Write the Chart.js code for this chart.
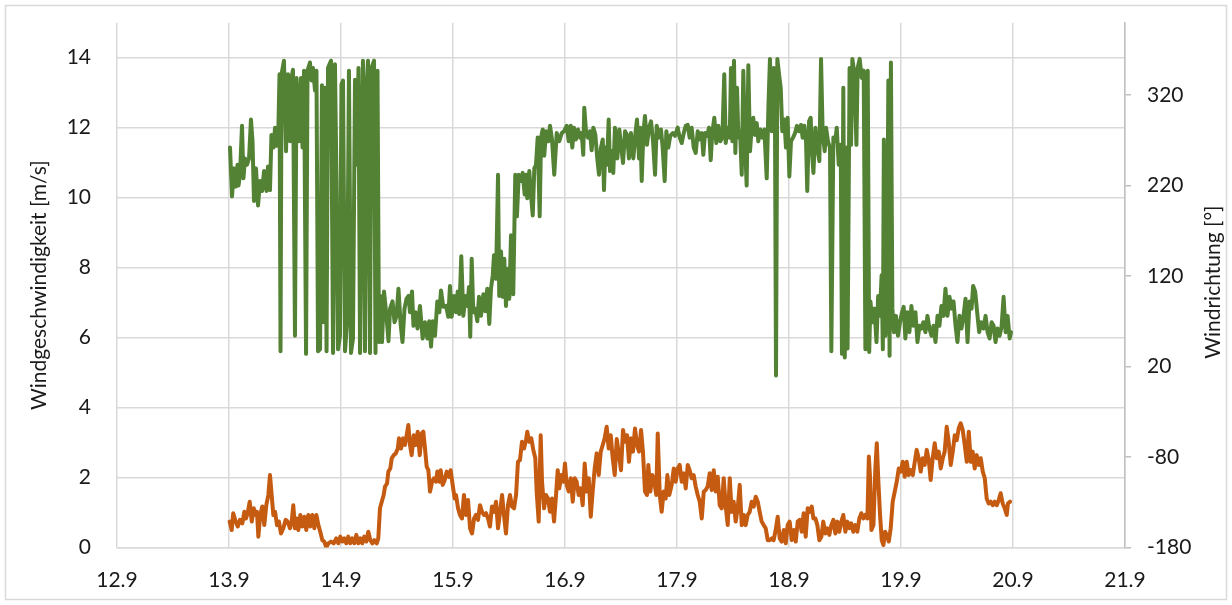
<!DOCTYPE html>
<html>
<head>
<meta charset="utf-8">
<script src="https://cdn.jsdelivr.net/npm/chart.js@4.4.1/dist/chart.umd.min.js"></script>
<style>
html,body{margin:0;padding:0;background:#fff;}
#wrap{position:relative;width:1232px;height:605px;}
</style>
</head>
<body>
<div id="wrap"><canvas id="c" width="1232" height="605"></canvas></div>
<script>
// X tick labels (day)
const xTicks = [12.9, 13.9, 14.9, 15.9, 16.9, 17.9, 18.9, 19.9, 20.9, 21.9];
const leftTicks = [0, 2, 4, 6, 8, 10, 12, 14];
const rightTicks = [-180, -80, 20, 120, 220, 320];
const leftTitle = 'Windgeschwindigkeit [m/s]';
const rightTitle = 'Windrichtung [°]';

// Wind direction [°] (right axis)
const dirDays = [13.909,13.927,13.945,13.963,13.976,13.985,13.998,14.016,14.029,14.043,14.061,14.079,14.096,14.110,14.123,14.141,14.159,14.177,14.195,14.213,14.235,14.248,14.266,14.279,14.297,14.311,14.324,14.338,14.351,14.360,14.369,14.391,14.409,14.427,14.445,14.458,14.471,14.489,14.503,14.525,14.543,14.556,14.570,14.588,14.601,14.623,14.637,14.650,14.668,14.681,14.695,14.713,14.730,14.744,14.757,14.771,14.784,14.797,14.811,14.829,14.846,14.860,14.873,14.891,14.904,14.918,14.936,14.954,14.971,14.989,15.007,15.025,15.043,15.056,15.070,15.083,15.096,15.114,15.128,15.141,15.159,15.172,15.195,15.208,15.226,15.239,15.253,15.266,15.284,15.306,15.324,15.338,15.360,15.378,15.396,15.413,15.431,15.449,15.467,15.485,15.503,15.516,15.534,15.547,15.565,15.583,15.605,15.629,15.650,15.671,15.688,15.704,15.719,15.739,15.760,15.778,15.793,15.813,15.838,15.858,15.873,15.888,15.909,15.927,15.942,15.956,15.974,15.992,16.010,16.028,16.043,16.054,16.067,16.081,16.099,16.117,16.132,16.150,16.171,16.188,16.206,16.224,16.239,16.255,16.266,16.284,16.302,16.313,16.329,16.344,16.358,16.373,16.388,16.403,16.418,16.438,16.456,16.471,16.487,16.504,16.522,16.540,16.552,16.563,16.581,16.596,16.612,16.626,16.641,16.656,16.674,16.686,16.701,16.715,16.730,16.751,16.766,16.784,16.804,16.826,16.849,16.871,16.891,16.915,16.933,16.951,16.965,16.980,16.998,17.016,17.034,17.049,17.063,17.072,17.088,17.105,17.123,17.138,17.153,17.171,17.188,17.204,17.221,17.237,17.248,17.260,17.275,17.290,17.302,17.317,17.331,17.346,17.367,17.385,17.400,17.418,17.436,17.454,17.471,17.489,17.510,17.531,17.543,17.561,17.572,17.585,17.599,17.614,17.632,17.650,17.668,17.686,17.704,17.719,17.739,17.757,17.772,17.790,17.805,17.822,17.840,17.862,17.882,17.906,17.924,17.942,17.960,17.978,17.996,18.013,18.031,18.049,18.067,18.085,18.103,18.121,18.135,18.150,18.168,18.186,18.201,18.215,18.233,18.251,18.269,18.287,18.305,18.322,18.335,18.353,18.371,18.382,18.394,18.409,18.421,18.436,18.448,18.463,18.478,18.492,18.507,18.522,18.537,18.552,18.567,18.581,18.596,18.612,18.626,18.644,18.662,18.680,18.701,18.716,18.730,18.746,18.764,18.775,18.784,18.796,18.811,18.826,18.840,18.858,18.873,18.888,18.903,18.918,18.936,18.954,18.971,18.989,19.007,19.022,19.037,19.052,19.063,19.079,19.094,19.103,19.118,19.136,19.153,19.171,19.186,19.201,19.219,19.231,19.248,19.266,19.278,19.296,19.314,19.326,19.344,19.362,19.373,19.385,19.398,19.412,19.423,19.441,19.454,19.466,19.484,19.502,19.513,19.531,19.549,19.567,19.582,19.591,19.603,19.616,19.627,19.645,19.663,19.681,19.696,19.711,19.727,19.738,19.747,19.760,19.774,19.787,19.798,19.810,19.823,19.837,19.855,19.873,19.891,19.909,19.924,19.939,19.957,19.975,19.993,20.011,20.029,20.047,20.065,20.082,20.100,20.118,20.136,20.154,20.172,20.190,20.208,20.226,20.243,20.261,20.279,20.297,20.315,20.333,20.351,20.369,20.387,20.404,20.422,20.440,20.458,20.476,20.494,20.512,20.530,20.544,20.562,20.580,20.598,20.616,20.637,20.655,20.673,20.691,20.709,20.727,20.744,20.762,20.780,20.798,20.816,20.834,20.852,20.870,20.882];
const dirDeg = [262,208,239,219,243,220,232,286,228,250,243,250,293,269,203,239,198,225,214,236,214,241,215,276,262,284,264,265,343,37,343,358,258,343,269,339,348,54,339,269,339,262,347,34,347,356,336,350,325,347,37,39,331,69,328,37,350,354,358,35,354,225,39,54,332,336,37,69,347,35,51,337,243,350,35,243,358,37,328,358,35,350,358,35,347,47,98,47,103,76,48,84,92,69,76,106,69,47,84,95,98,80,103,65,80,62,87,51,69,51,70,42,70,54,92,80,104,86,87,75,109,75,98,80,103,78,142,76,98,87,108,53,139,80,84,70,97,76,100,81,106,67,106,121,143,117,232,98,147,97,139,87,128,95,165,100,232,186,232,225,234,210,232,206,236,210,187,239,243,273,186,273,282,253,280,269,286,271,232,278,269,278,280,286,269,286,262,284,271,282,273,278,254,306,280,273,280,259,284,276,250,232,262,271,215,262,243,293,236,258,234,284,250,282,265,245,280,276,250,278,250,280,293,250,284,225,276,297,265,284,291,269,232,286,273,282,262,225,280,262,275,278,275,284,273,267,278,286,287,273,284,262,256,280,271,278,254,278,275,284,248,278,295,267,286,269,273,343,267,284,273,350,269,358,256,328,273,280,232,347,269,220,353,258,284,295,276,289,269,282,273,282,228,306,360,280,350,284,10,360,343,328,280,293,262,295,230,269,273,278,286,280,287,273,286,269,214,291,295,262,234,284,262,247,360,276,258,284,269,262,37,273,269,284,243,265,34,328,30,262,40,350,265,360,343,265,350,360,339,347,39,95,347,36,92,69,84,47,98,76,121,39,271,54,84,336,32,356,84,58,76,54,69,80,86,51,80,58,87,65,80,47,65,62,69,58,76,62,54,65,47,76,65,87,76,106,76,97,84,92,65,47,76,62,76,95,47,92,84,109,103,80,58,69,62,76,58,51,69,65,47,62,54,64,97,58,76,51,58];

// Wind speed [m/s] (left axis)
const spdDays = [13.906,13.924,13.938,13.960,13.978,13.998,14.019,14.037,14.052,14.067,14.085,14.103,14.121,14.138,14.150,14.162,14.179,14.197,14.215,14.233,14.251,14.266,14.281,14.296,14.311,14.329,14.346,14.364,14.385,14.406,14.424,14.445,14.460,14.474,14.489,14.504,14.519,14.537,14.554,14.572,14.590,14.608,14.626,14.644,14.662,14.680,14.698,14.715,14.733,14.751,14.769,14.787,14.811,14.835,14.858,14.876,14.894,14.912,14.930,14.947,14.965,14.983,15.001,15.019,15.037,15.055,15.073,15.090,15.108,15.126,15.144,15.162,15.180,15.198,15.219,15.233,15.248,15.264,15.281,15.293,15.311,15.323,15.340,15.353,15.371,15.389,15.407,15.418,15.436,15.454,15.471,15.489,15.501,15.516,15.531,15.549,15.567,15.585,15.603,15.621,15.635,15.650,15.665,15.680,15.695,15.713,15.730,15.748,15.760,15.778,15.790,15.808,15.826,15.844,15.862,15.879,15.897,15.915,15.927,15.945,15.962,15.980,15.998,16.016,16.034,16.052,16.070,16.088,16.105,16.123,16.141,16.159,16.177,16.195,16.213,16.230,16.248,16.266,16.284,16.302,16.320,16.338,16.355,16.373,16.391,16.409,16.427,16.445,16.463,16.480,16.498,16.516,16.534,16.552,16.563,16.581,16.599,16.617,16.635,16.647,16.665,16.683,16.695,16.713,16.730,16.748,16.766,16.784,16.802,16.820,16.835,16.849,16.867,16.885,16.900,16.915,16.933,16.951,16.969,16.987,17.004,17.022,17.040,17.058,17.076,17.094,17.112,17.130,17.147,17.165,17.183,17.201,17.219,17.237,17.254,17.272,17.290,17.308,17.326,17.344,17.362,17.382,17.400,17.418,17.436,17.454,17.471,17.489,17.507,17.525,17.543,17.561,17.579,17.596,17.614,17.632,17.644,17.662,17.680,17.697,17.715,17.728,17.746,17.763,17.781,17.799,17.814,17.831,17.853,17.871,17.888,17.906,17.924,17.942,17.960,17.978,17.996,18.013,18.031,18.049,18.067,18.085,18.103,18.121,18.139,18.156,18.174,18.192,18.210,18.228,18.246,18.264,18.281,18.299,18.317,18.335,18.353,18.371,18.388,18.406,18.424,18.442,18.460,18.478,18.496,18.513,18.531,18.549,18.567,18.585,18.603,18.621,18.638,18.656,18.674,18.692,18.710,18.728,18.746,18.763,18.781,18.799,18.817,18.835,18.853,18.871,18.888,18.906,18.924,18.942,18.960,18.978,18.996,19.013,19.031,19.049,19.067,19.085,19.103,19.118,19.136,19.153,19.171,19.189,19.206,19.224,19.242,19.260,19.278,19.296,19.314,19.331,19.349,19.367,19.385,19.403,19.421,19.439,19.456,19.474,19.492,19.510,19.528,19.546,19.564,19.582,19.600,19.613,19.624,19.636,19.654,19.671,19.684,19.698,19.713,19.728,19.743,19.758,19.773,19.791,19.808,19.826,19.844,19.862,19.880,19.898,19.915,19.933,19.951,19.969,19.987,20.005,20.023,20.040,20.058,20.076,20.094,20.112,20.130,20.148,20.165,20.183,20.201,20.219,20.237,20.255,20.273,20.290,20.308,20.326,20.344,20.362,20.380,20.398,20.415,20.433,20.451,20.469,20.487,20.505,20.523,20.540,20.558,20.576,20.594,20.612,20.630,20.648,20.665,20.683,20.701,20.719,20.737,20.755,20.773,20.790,20.808,20.826,20.844,20.855,20.873];
const spdVal = [0.74,0.5,0.98,0.74,0.6,0.79,0.69,1.02,0.83,0.98,1.31,0.74,1.12,0.93,1.02,0.31,0.93,1.17,0.64,1.21,1.5,2.07,1.5,0.93,1.02,0.64,0.74,0.4,0.55,0.79,0.74,0.55,0.74,1.21,0.55,0.83,0.5,0.93,0.6,0.88,0.5,0.93,0.6,0.93,0.55,0.93,0.64,0.45,0.21,0.17,0,0.12,0.17,0.12,0.26,0.12,0.31,0.17,0.26,0.12,0.31,0.12,0.26,0.12,0.36,0.12,0.26,0.12,0.31,0.17,0.45,0.21,0.12,0.21,0.12,0.26,1.12,1.31,1.5,1.74,1.83,2.17,2.26,2.55,2.64,2.69,2.83,3.12,2.83,3.12,2.93,3.26,3.5,2.93,2.64,3.21,2.93,3.31,2.64,3.26,3.31,2.83,2.31,2.21,1.6,1.88,1.98,1.88,2.17,1.88,2.21,1.79,1.93,2.17,2.02,2.21,1.79,1.4,1.5,1.12,0.93,0.83,1.5,0.93,1.36,0.55,0.4,0.83,0.93,0.79,1.21,1.02,0.93,0.98,0.83,0.6,1.17,1.02,1.31,0.55,1.02,1.5,0.93,0.4,1.21,1.5,1.17,1.12,1.5,2.45,2.5,3.02,2.83,3.07,3.31,3.02,3.12,2.79,2.55,1.6,0.74,3.21,1.88,1.12,1.5,1.4,1.02,1.4,0.74,1.5,2.21,1.69,2.07,1.88,2.4,1.79,1.6,1.98,1.31,1.98,1.88,1.5,1.69,1.21,2.4,1.6,1.98,0.88,1.6,2.26,2.69,2.07,2.74,2.93,3.12,3.45,2.83,3.21,2.55,2.07,3.1,2.64,2.21,3.36,3.02,3.21,2.45,3.12,2.74,3.4,2.93,2.74,3.36,2.74,1.6,1.5,2.36,1.6,2.07,1.88,1.5,3.26,1.5,1.02,1.6,1.4,2.07,1.5,1.79,2.26,1.88,2.26,2.36,1.88,2.12,1.69,2.36,2.21,1.98,2.07,1.74,1.5,1.31,0.83,1.6,1.64,1.74,2.12,1.64,2.21,1.6,2.02,1.21,1.12,1.98,1.17,0.64,1.98,1.02,1.31,0.74,1.12,1.79,0.64,0.93,0.64,0.93,1.02,1.31,1.17,1.45,1.31,1.02,0.74,0.64,0.55,0.21,0.21,0.26,0.21,0.5,0.88,0.26,0.17,0.5,0.12,0.64,0.74,0.21,0.5,0.17,0.74,0.79,0.45,0.98,0.31,1.12,1.02,1.17,0.83,0.83,0.64,0.21,0.31,0.74,0.4,0.55,0.36,0.64,0.79,0.4,0.74,0.45,0.74,0.93,0.45,0.74,0.55,0.69,0.45,0.64,0.45,0.83,0.98,0.83,0.93,0.83,2.6,1.98,0.5,0.64,2.26,2.98,1.88,0.93,0.21,0.07,0.45,0.36,0.17,0.55,1.31,1.6,1.88,2.26,2.17,2.45,2.02,2.45,2.07,2.21,2.07,2.45,2.79,2.55,2.17,2.55,2.36,2.79,2.5,1.93,2.55,2.98,2.55,2.74,2.26,2.55,2.74,3.45,3.02,2.36,2.74,3.21,3.07,3.4,3.55,3.36,2.93,2.45,3.31,2.45,2.74,2.26,2.64,2.36,2.55,2.17,1.98,1.4,1.26,1.31,1.21,1.31,1.21,1.36,1.55,1.26,1.12,0.93,1.26,1.31];

const FONT = 'Lato, "Open Sans", sans-serif';
const TXT = '#1a1a1a';
const GRID = '#d9d9d9';

const borderPlugin = {
  id: 'outerBorder',
  beforeDraw(chart) {
    const ctx = chart.ctx;
    ctx.save();
    ctx.fillStyle = '#fff';
    ctx.fillRect(0, 0, chart.width, chart.height);
    ctx.strokeStyle = GRID;
    ctx.lineWidth = 1.5;
    ctx.strokeRect(5.5, 5.5, chart.width - 11, chart.height - 11);
    ctx.restore();
  },
  afterDraw(chart) {
    // right axis title, rotated to read bottom-to-top like the left one
    const ctx = chart.ctx;
    const a = chart.chartArea;
    const s = chart.scales.y2;
    ctx.save();
    ctx.translate(s.right - 19, (a.top + a.bottom) / 2 - 3);
    ctx.rotate(-Math.PI / 2);
    ctx.fillStyle = TXT;
    ctx.font = '21px ' + FONT;
    ctx.textAlign = 'center';
    ctx.textBaseline = 'middle';
    ctx.fillText(rightTitle, 0, 0);
    ctx.restore();
  }
};

new Chart(document.getElementById('c'), {
  type: 'line',
  data: {
    datasets: [
      {
        label: 'Windgeschwindigkeit',
        data: spdDays.map((d, i) => ({x: d, y: spdVal[i]})),
        yAxisID: 'y',
        borderColor: '#c55a11',
        borderWidth: 4,
        pointRadius: 0,
        tension: 0,
        borderJoinStyle: 'round',
        borderCapStyle: 'round'
      },
      {
        label: 'Windrichtung',
        data: dirDays.map((d, i) => ({x: d, y: dirDeg[i]})),
        yAxisID: 'y2',
        borderColor: '#548235',
        borderWidth: 4,
        pointRadius: 0,
        tension: 0,
        borderJoinStyle: 'round',
        borderCapStyle: 'round'
      }
    ]
  },
  options: {
    responsive: false,
    animation: false,
    devicePixelRatio: 1,
    layout: { padding: { top: 22.7, left: 0, right: 0, bottom: 0 } },
    plugins: { legend: { display: false }, tooltip: { enabled: false } },
    scales: {
      x: {
        type: 'linear',
        min: 12.9, max: 21.9,
        afterBuildTicks: s => { s.ticks = xTicks.map(v => ({value: v})); },
        afterFit: s => { s.height = 57.5; s.paddingLeft = 0; s.paddingRight = 0; },
        ticks: { callback: v => Number(v).toFixed(1), color: TXT, font: { family: FONT, size: 21 }, padding: 20, maxRotation: 0, autoSkip: false },
        grid: { color: GRID, lineWidth: 1.5, drawTicks: false },
        border: { display: true, color: GRID, width: 1.5 }
      },
      y: {
        position: 'left',
        min: 0, max: 15,
        afterBuildTicks: s => { s.ticks = leftTicks.map(v => ({value: v})); },
        afterFit: s => { s.width = 117; s.paddingTop = 0; s.paddingBottom = 0; },
        ticks: { color: TXT, font: { family: FONT, size: 21 }, padding: 26 },
        grid: { color: GRID, lineWidth: 1.5, drawTicks: false },
        border: { display: false },
        title: { display: true, text: leftTitle, color: TXT, font: { family: FONT, size: 21 }, padding: { top: 27, bottom: 0 } }
      },
      y2: {
        position: 'right',
        min: -180, max: 400,
        afterBuildTicks: s => { s.ticks = rightTicks.map(v => ({value: v})); },
        afterFit: s => { s.width = 107; s.paddingTop = 0; s.paddingBottom = 0; },
        ticks: { color: TXT, font: { family: FONT, size: 21 }, padding: 16 },
        grid: { drawOnChartArea: false, drawTicks: true, tickLength: 6, color: '#bfbfbf', lineWidth: 1.5 },
        border: { display: true, color: '#bfbfbf', width: 1.5 },
        title: { display: false }
      }
    }
  },
  plugins: [borderPlugin]
});
</script>
</body>
</html>
